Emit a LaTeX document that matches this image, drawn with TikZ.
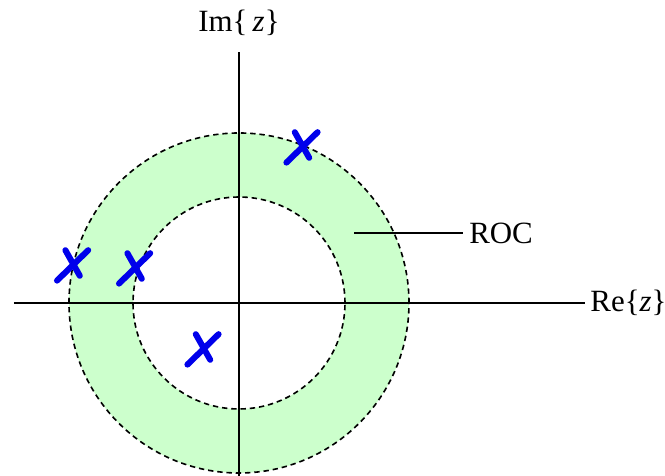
\documentclass[tikz,border=0pt]{standalone}
\usepackage{fontspec}
\setmainfont{Liberation Serif}
\usetikzlibrary{positioning}
\definecolor{rocgreen}{RGB}{204,255,204}
\definecolor{poleblue}{RGB}{0,0,235}

\begin{document}
\begin{tikzpicture}[
	axis/.style={draw=black, line width=1.4pt},
	rim/.style={draw=black, line width=1.15pt, dash pattern=on 3.8pt off 2.8pt},
	lbl/.style={font=\fontsize{22}{26}\selectfont, inner sep=0pt},
	pole/.pic={\draw[poleblue, line width=4.3pt, line cap=round]
	           (-0.39,-0.39) -- (0.39,0.37) (-0.18,0.37) -- (0.18,-0.27);}
	]
\useasboundingbox (-5.975,-4.325) rectangle (10.65,7.575);

% region of convergence
\fill[rocgreen, even odd rule] (0,0) circle (4.25) (0,0) circle (2.65);
\draw[rim] (0,0) circle (4.25);
\draw[rim] (0,0) circle (2.65);

% axes
\coordinate (w) at (-5.63,0);
\coordinate (e) at (8.65,0);
\coordinate (s) at (0,-4.325);
\coordinate (n) at (0,6.28);
\draw[axis] (w) -- (e);
\draw[axis] (s) -- (n);
\node[lbl, right=0.13 of e] (re) {Re\{\textit{z}\}};
\node[lbl] (im) at (0,7.0) {Im\{\,\textit{z}\}};

% label
\coordinate (r) at (2.875,1.75);
\node[lbl, anchor=west] (roc) at (5.75,1.75) {ROC};
\draw[line width=1.4pt] (r) -- ([xshift=-0.15cm]roc.west);

% poles
\foreach \p in {(1.575,3.9), (-4.16,0.95), (-2.61,0.875), (-0.9,-1.15)}
	\pic at \p {pole};
\end{tikzpicture}
\end{document}
